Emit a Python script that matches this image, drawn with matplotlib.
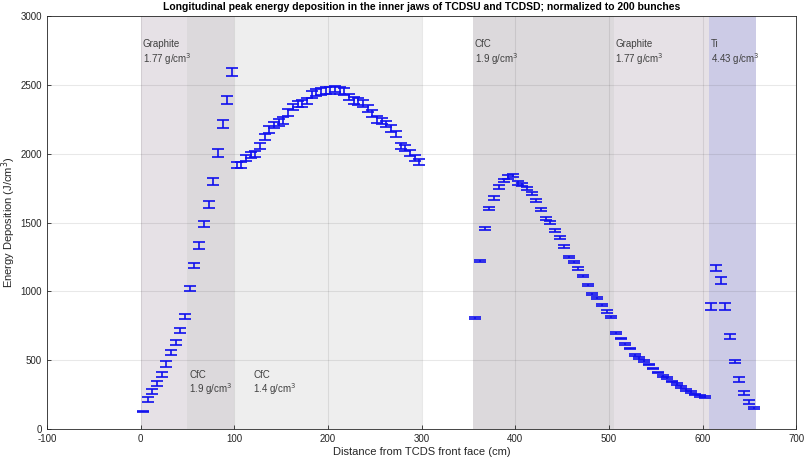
import matplotlib
matplotlib.use('Agg')
import matplotlib.pyplot as plt

# --- data ---
# TCDSU: graphite 0-50, CfC 1.9 50-100, CfC 1.4 100-300
x_u = [2.5 + 5 * i for i in range(60)]
e_u = [130, 215, 271, 332, 398, 471, 556, 629, 714, 819,
       1019, 1189, 1331, 1489, 1633, 1799, 2006, 2213, 2388, 2591,
       1916, 1916, 1969, 1993, 2000, 2055, 2121, 2176, 2208, 2225,
       2242, 2300, 2340, 2360, 2364, 2383, 2432, 2444, 2452, 2461,
       2460, 2469, 2461, 2452, 2413, 2388, 2379, 2364, 2330, 2291,
       2249, 2238, 2213, 2183, 2140, 2055, 2042, 2006, 1969, 1940]
err_u = [4, 17, 17, 17, 17, 20, 17, 20, 17, 20,
         20, 20, 25, 25, 25, 25, 30, 30, 30, 30,
         22, 22, 22, 22, 22, 22, 24, 24, 24, 24,
         24, 24, 24, 24, 24, 24, 24, 24, 24, 24,
         24, 24, 24, 24, 24, 24, 24, 24, 24, 24,
         24, 24, 22, 22, 22, 22, 22, 22, 22, 20]

# TCDSD: CfC 1.9 355-505, graphite 505-607, Ti 607-657
x_d = [357.5 + 5 * i for i in range(50)] + [609.5 + 5 * i for i in range(10)]
e_d = [805, 1223, 1458, 1604, 1679, 1757, 1806, 1830, 1843, 1787,
       1774, 1745, 1711, 1662, 1594, 1531, 1502, 1443, 1390, 1324,
       1250, 1214, 1165, 1109, 1048, 978, 951, 902, 853, 812,
       698, 658, 617, 585, 536, 517, 493, 468, 439, 410,
       383, 371, 346, 327, 305, 283, 271, 251, 239, 232,
       892, 1170, 1080, 892, 673, 490, 361, 264, 196, 152]
err_d = [6, 8, 10, 12, 12, 12, 12, 12, 12, 12,
         12, 12, 12, 12, 10, 10, 10, 10, 10, 10,
         10, 10, 10, 8, 8, 8, 8, 8, 8, 8,
         6, 6, 6, 6, 6, 6, 6, 6, 6, 6,
         6, 6, 6, 6, 6, 6, 6, 6, 6, 6,
         24, 24, 24, 24, 20, 10, 20, 15, 12, 5]

# material bands
band_start = [0, 50, 100, 355, 505, 607]
band_end = [50, 100, 300, 505, 607, 657]
band_name = ['Graphite', 'CfC', 'CfC', 'CfC', 'Graphite', 'Ti']
band_rho = ['1.77', '1.9', '1.4', '1.9', '1.77', '4.43']
band_color = ['#e6e1e6', '#dcd9dc', '#eeeeee', '#dcd9dc', '#e6e1e6', '#cccbe6']
label_x = [2, 52, 120, 357, 507, 609]
label_top = [True, False, False, True, True, True]

title = 'Longitudinal peak energy deposition in the inner jaws of TCDSU and TCDSD; normalized to 200 bunches'

plt.rcParams['font.family'] = ['Liberation Sans', 'DejaVu Sans']
plt.rcParams['axes.unicode_minus'] = False

fig = plt.figure(figsize=(8.05, 4.58), dpi=100)
ax = fig.add_axes([0.0584, 0.0633, 0.9306, 0.9017])

for s, e, c in zip(band_start, band_end, band_color):
    ax.axvspan(s, e, color=c, lw=0, zorder=1)

for xt, name, rho, top in zip(label_x, band_name, band_rho, label_top):
    if top:
        y1, y2 = 2795, 2686
    else:
        y1, y2 = 390, 289
    ax.text(xt, y1, name, fontsize=7, color='#404040', va='center', zorder=3)
    ax.text(xt, y2, rho + ' g/cm$^3$', fontsize=7, color='#404040',
            va='center', zorder=3)

ax.errorbar(x_u, e_u, yerr=err_u, fmt='none', ecolor='#1010ee', elinewidth=1.2,
            capsize=4.3, capthick=1.2, zorder=2)
ax.errorbar(x_d, e_d, yerr=err_d, fmt='none', ecolor='#1010ee', elinewidth=1.2,
            capsize=4.3, capthick=1.2, zorder=2)

ax.set_xlim(-100, 700)
ax.set_ylim(0, 3000)
ax.set_xticks(range(-100, 701, 100))
ax.set_yticks(range(0, 3001, 500))
ax.set_axisbelow('line')
ax.grid(True, color='#262626', alpha=0.1, lw=0.8)
ax.tick_params(direction='in', labelsize=7, colors='#262626', length=3, width=0.6,
               top=False, right=False)
for sp in ax.spines.values():
    sp.set_color('#262626')
    sp.set_linewidth(0.6)

ax.set_xlabel('Distance from TCDS front face (cm)', fontsize=8, color='#262626', labelpad=2)
ax.set_ylabel('Energy Deposition (J/cm$^3$)', fontsize=8, color='#262626', labelpad=2)
ax.set_title(title, fontsize=7.5, fontweight='bold', color='#000000', pad=4)

fig.savefig('out.png', dpi=100)
